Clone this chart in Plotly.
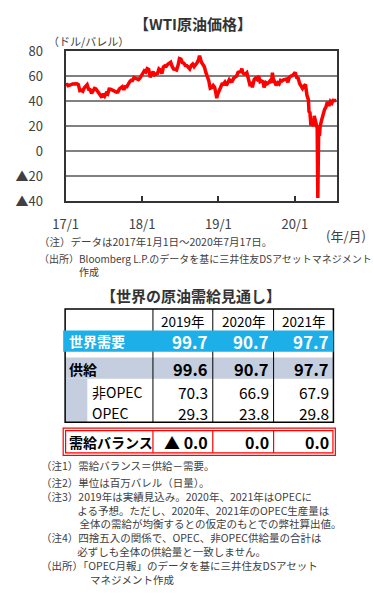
import plotly.graph_objects as go

W, H = 373, 594
FONT = "Noto Sans CJK JP"
TXT = "#404040"

# ---- WTI price data (US$/barrel) ----
wti_dates = [
    "2017-01-02","2017-01-06","2017-01-13","2017-01-20","2017-01-27","2017-02-03","2017-02-10","2017-02-17","2017-02-24",
    "2017-03-03","2017-03-10","2017-03-17","2017-03-24","2017-03-31","2017-04-07","2017-04-14","2017-04-21","2017-04-28",
    "2017-05-05","2017-05-12","2017-05-19","2017-05-26","2017-06-02","2017-06-09","2017-06-16","2017-06-23","2017-06-30",
    "2017-07-07","2017-07-14","2017-07-21","2017-07-28","2017-08-04","2017-08-11","2017-08-18","2017-08-25","2017-09-01",
    "2017-09-08","2017-09-15","2017-09-22","2017-09-29","2017-10-06","2017-10-13","2017-10-20","2017-10-27","2017-11-03",
    "2017-11-10","2017-11-17","2017-11-24","2017-12-01","2017-12-08","2017-12-15","2017-12-22","2017-12-29",
    "2018-01-05","2018-01-12","2018-01-19","2018-01-26","2018-02-02","2018-02-09","2018-02-16","2018-02-23","2018-03-02",
    "2018-03-09","2018-03-16","2018-03-23","2018-03-30","2018-04-06","2018-04-13","2018-04-20","2018-04-27","2018-05-04",
    "2018-05-11","2018-05-18","2018-05-25","2018-06-01","2018-06-08","2018-06-15","2018-06-22","2018-06-29","2018-07-06",
    "2018-07-13","2018-07-20","2018-07-27","2018-08-03","2018-08-10","2018-08-17","2018-08-24","2018-08-31","2018-09-07",
    "2018-09-14","2018-09-21","2018-09-28","2018-10-03","2018-10-12","2018-10-19","2018-10-26","2018-11-02","2018-11-09",
    "2018-11-16","2018-11-23","2018-11-30","2018-12-07","2018-12-14","2018-12-21","2018-12-24","2018-12-28",
    "2019-01-04","2019-01-11","2019-01-18","2019-01-25","2019-02-01","2019-02-08","2019-02-15","2019-02-22","2019-03-01",
    "2019-03-08","2019-03-15","2019-03-22","2019-03-29","2019-04-05","2019-04-12","2019-04-19","2019-04-23","2019-04-26",
    "2019-05-03","2019-05-10","2019-05-17","2019-05-24","2019-05-31","2019-06-07","2019-06-12","2019-06-21","2019-06-28",
    "2019-07-05","2019-07-12","2019-07-19","2019-07-26","2019-08-02","2019-08-07","2019-08-16","2019-08-23","2019-08-30",
    "2019-09-06","2019-09-13","2019-09-16","2019-09-20","2019-09-27","2019-10-04","2019-10-11","2019-10-18","2019-10-25",
    "2019-11-01","2019-11-08","2019-11-15","2019-11-22","2019-11-29","2019-12-06","2019-12-13","2019-12-20","2019-12-27",
    "2020-01-03","2020-01-10","2020-01-17","2020-01-24","2020-01-31","2020-02-07","2020-02-14","2020-02-21","2020-02-28",
    "2020-03-06","2020-03-09","2020-03-13","2020-03-18","2020-03-20","2020-03-27","2020-03-30","2020-04-03","2020-04-09",
    "2020-04-17","2020-04-20","2020-04-21","2020-04-24","2020-04-28","2020-05-01","2020-05-08","2020-05-15","2020-05-22",
    "2020-05-29","2020-06-05","2020-06-12","2020-06-19","2020-06-26","2020-07-02","2020-07-10","2020-07-17",
]
wti_values = [
    52.3,54.0,52.4,53.2,53.2,53.8,53.9,53.4,54.0,
    53.3,48.5,48.8,48.0,50.6,52.2,53.2,49.6,49.3,
    46.2,47.8,50.3,49.8,47.7,45.8,44.7,43.0,46.0,
    44.2,46.5,45.8,49.7,49.6,48.8,48.5,47.9,47.3,
    47.5,49.9,50.7,51.7,49.3,51.5,51.5,53.9,55.6,
    56.7,56.6,59.0,58.4,57.4,57.3,58.5,60.4,
    61.4,64.3,63.4,66.1,65.5,59.2,61.7,63.6,61.3,
    62.0,62.3,65.9,64.9,62.1,67.4,68.4,68.1,69.7,
    70.7,71.3,67.9,65.8,65.7,65.1,68.6,74.2,73.8,
    71.0,70.5,68.7,68.5,67.6,65.9,68.7,69.8,67.8,
    69.0,70.8,73.3,76.4,71.3,69.1,67.6,63.1,60.2,
    56.5,50.4,50.9,52.6,51.2,45.6,42.5,45.3,
    48.0,51.6,53.8,53.7,55.3,52.7,55.6,57.3,55.8,
    56.1,58.5,59.0,60.1,63.1,63.9,64.0,66.3,63.3,
    61.9,61.7,62.8,58.6,53.5,54.1,51.1,57.4,58.5,
    57.5,60.2,55.6,56.2,55.7,51.1,54.9,54.2,55.1,
    56.5,54.9,62.9,58.1,55.9,52.8,54.7,53.8,56.7,
    56.2,57.2,57.7,57.8,55.2,59.2,60.1,60.4,61.7,
    63.1,59.0,58.5,54.2,51.6,50.3,52.1,53.4,44.8,
    41.3,31.1,31.7,20.4,22.4,21.5,20.1,28.3,22.8,
    18.3,-37.6,10.0,16.9,12.3,19.8,24.7,29.4,33.3,
    35.5,39.6,36.3,39.8,38.5,40.7,40.6,40.6,
]

x_tickvals = ["2017-01-01", "2018-01-01", "2019-01-01", "2020-01-01"]
x_ticktext = ["17/1", "18/1", "19/1", "20/1"]
y_tickvals = [-40, -20, 0, 20, 40, 60, 80]
y_ticktext = ["▲40", "▲20", "0", "20", "40", "60", "80"]

# ---- Supply / demand table data (million barrels per day) ----
years = ["2019年", "2020年", "2021年"]
row_labels = ["世界需要", "供給", "非OPEC", "OPEC"]
demand = ["99.7", "90.7", "97.7"]
supply = ["99.6", "90.7", "97.7"]
non_opec = ["70.3", "66.9", "67.9"]
opec = ["29.3", "23.8", "29.8"]
balance_label = "需給バランス"
balance = ["▲ 0.0", "0.0", "0.0"]

chart_notes = [
    "（注）データは2017年1月1日～2020年7月17日。",
    "（出所）Bloomberg L.P.のデータを基に三井住友DSアセットマネジメント<br>　　　　作成",
]
IND = "　　　\u00a0\u00a0"
notes_texts = [
    "（注1）需給バランス＝供給－需要。",
    "（注2）単位は百万バレル（日量）。",
    "（注3）2019年は実績見込み。2020年、2021年はOPECに<br>" + IND +
    "よる予想。ただし、2020年、2021年のOPEC生産量は<br>" + IND +
    "\u00a0全体の需給が均衡するとの仮定のもとでの弊社算出値。",
    "（注4）四捨五入の関係で、OPEC、非OPEC供給量の合計は<br>" + IND +
    "必ずしも全体の供給量と一致しません。",
    "（出所）「OPEC月報」のデータを基に三井住友DSアセット<br>　　　　\u00a0\u00a0\u00a0マネジメント作成",
]


def px(x):
    return x / W


def py(y):
    return 1 - y / H


fig = go.Figure()
fig.add_trace(go.Scatter(
    x=wti_dates, y=wti_values, mode="lines",
    line=dict(color="#FF0000", width=3.5), hoverinfo="skip", showlegend=False,
))

fig.update_layout(
    width=W, height=H,
    margin=dict(l=0, r=0, t=0, b=0),
    paper_bgcolor="white", plot_bgcolor="white",
    font=dict(family=FONT, color=TXT, size=12),
    showlegend=False,
    xaxis=dict(
        domain=[px(54.5), px(336)], type="date",
        range=["2017-01-01", "2020-07-22"],
        tickvals=x_tickvals, ticktext=x_ticktext,
        ticks="inside", ticklen=5, tickwidth=2, tickcolor="#333333",
        showgrid=False, zeroline=False,
        showline=True, mirror=True, linecolor="#333333", linewidth=2,
        tickfont=dict(size=13, color=TXT, family=FONT),
        ticklabelstandoff=10,
    ),
    yaxis=dict(
        domain=[py(197.3), py(42.7)],
        range=[-40, 80], tickvals=y_tickvals, ticktext=y_ticktext,
        showgrid=True, gridcolor="#808080", gridwidth=2,
        zeroline=False, ticks="",
        showline=True, mirror=True, linecolor="#333333", linewidth=2,
        tickfont=dict(size=13, color=TXT, family=FONT),
        ticklabelstandoff=18,
    ),
)

shapes = []
ann = []


def text(x, y, s, size=11, bold=False, color=TXT, xanchor="left", yanchor="middle"):
    ann.append(dict(
        x=px(x), y=py(y), xref="paper", yref="paper", text=("<b>%s</b>" % s) if bold else s,
        showarrow=False, xanchor=xanchor, yanchor=yanchor, align="left",
        font=dict(family=FONT, size=size, color=color), borderpad=0,
    ))


def rect(x0, y0, x1, y1, fill=None, line=None, lw=1):
    shapes.append(dict(
        type="rect", xref="paper", yref="paper",
        x0=px(x0), x1=px(x1), y0=py(y1), y1=py(y0),
        fillcolor=fill if fill else "rgba(0,0,0,0)",
        line=dict(color=line if line else "rgba(0,0,0,0)", width=lw if line else 0),
        layer="above",
    ))


def vline(x, y0, y1, color="black", lw=1):
    shapes.append(dict(type="line", xref="paper", yref="paper",
                       x0=px(x), x1=px(x), y0=py(y0), y1=py(y1),
                       line=dict(color=color, width=lw), layer="above"))


# chart texts
text(186.5, 14, "【WTI原油価格】", size=15, bold=True, color="#333333", xanchor="center")
text(35, 32, "（ドル/バレル）", size=11)
text(367, 233, "(年/月)", size=13, xanchor="right")
text(26, 239.5, chart_notes[0], size=10.5)
text(26, 248, chart_notes[1], size=10, yanchor="top")

# table
text(184.5, 295, "【世界の原油需給見通し】", size=15, bold=True, color="#333333", xanchor="center")
col_edges = [54, 145, 207, 270, 332]
col_right = [e - 4 for e in col_edges[2:]]
col_center = [(col_edges[i + 1] + col_edges[i + 2]) / 2 for i in range(3)]

rect(54, 359, 332, 381, fill="#C5CEDF")          # supply row
rect(54, 381, 77, 426, fill="#C5CEDF")           # stub
for x in col_edges[1:4]:
    vline(x, 309, 426)
rect(54, 309, 332, 426, line="black", lw=1.5)
rect(52, 331, 332, 353, fill="#1CAFE8")          # demand row

for i, yv in enumerate(years):
    text(col_center[i], 321, yv, size=13.5, color="black", xanchor="center")
text(57, 342, row_labels[0], size=14, bold=True, color="white")
for i, v in enumerate(demand):
    text(col_right[i], 342.5, v, size=17, bold=True, color="white", xanchor="right")
text(57, 370.5, row_labels[1], size=14, bold=True, color="black")
for i, v in enumerate(supply):
    text(col_right[i], 370.5, v, size=16.5, bold=True, color="black", xanchor="right")
text(81, 394.5, row_labels[2], size=14, color="black")
for i, v in enumerate(non_opec):
    text(col_right[i], 394.5, v, size=15.5, color="black", xanchor="right")
text(81, 416.5, row_labels[3], size=14, color="black")
for i, v in enumerate(opec):
    text(col_right[i], 416.5, v, size=15.5, color="black", xanchor="right")

rect(52, 432, 334, 460, line="#FF0000", lw=1.2)
rect(54.5, 434.5, 331.5, 457.5, line="#FF0000", lw=1.2)
for x in col_edges[1:4]:
    vline(x, 434.5, 457.5, color="#FF0000", lw=1.2)
text(57, 446, balance_label, size=14, bold=True, color="black")
for i, v in enumerate(balance):
    text(col_right[i], 446, v, size=16, bold=True, color="black", xanchor="right")

# notes below the table (top of each block)
note_top = [462, 479, 494, 536, 565]
for txt, yt in zip(notes_texts, note_top):
    text(28, yt, txt, size=10.5, yanchor="top")

fig.update_layout(shapes=shapes, annotations=ann)
fig.write_html("out.html", config={"displayModeBar": False},
               post_script="document.body.style.margin='0';document.body.style.padding='0';")
